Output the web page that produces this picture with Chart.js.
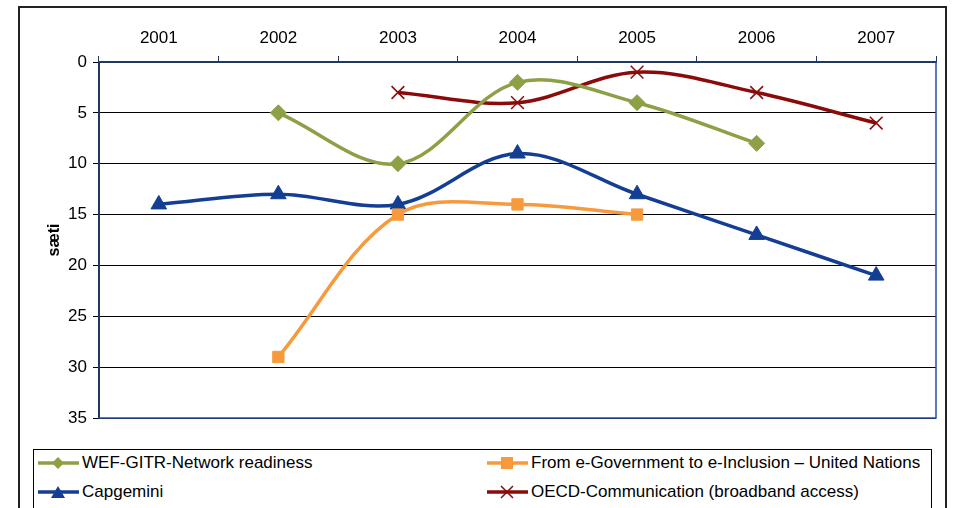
<!DOCTYPE html>
<html>
<head>
<meta charset="utf-8">
<script src="https://cdn.jsdelivr.net/npm/chart.js@4/dist/chart.umd.min.js"></script>
<style>
    body { margin: 0; background: #fff; font-family: "Liberation Sans", Arial, sans-serif; }
    #wrap { position: relative; width: 953px; height: 508px; overflow: hidden; }
    #frame { position: absolute; left: 18px; top: 6px; width: 929px; height: 520px; border: 2px solid #222; box-sizing: border-box; }
    canvas { position: absolute; left: 0; top: 0; }
    #legend { position: absolute; left: 33px; top: 449px; width: 899px; height: 70px; border: 1px solid #000; box-sizing: border-box; background: #fff; }
    .item { position: absolute; display: flex; align-items: center; font-size: 17px; color: #000; white-space: nowrap; }
    .item svg { margin-right: 3px; }
</style>
</head>
<body>
<div id="wrap">
    <div id="frame"></div>
    <canvas id="chart" width="953" height="508"></canvas>
    <div id="legend"></div>
</div>
<script>
const years = ['2001', '2002', '2003', '2004', '2005', '2006', '2007'];
const wefValues = [null, 5, 10, 2, 4, 8, null];
const unValues = [null, 29, 15, 14, 15, null, null];
const capgeminiValues = [14, 13, 14, 9, 13, 17, 21];
const oecdValues = [null, null, 3, 4, 1, 3, 6];
const yTicks = [0, 5, 10, 15, 20, 25, 30, 35];

const seriesDefs = [
    { label: 'WEF-GITR-Network readiness', data: wefValues, color: '#8DA046', point: 'rectRot', radius: 8, marker: 'diamond' },
    { label: 'From e-Government to e-Inclusion – United Nations', data: unValues, color: '#F79A3E', point: 'rect', radius: 8, marker: 'square' },
    { label: 'Capgemini', data: capgeminiValues, color: '#133E94', point: 'triangle', radius: 9, marker: 'triangle' },
    { label: 'OECD-Communication (broadband access)', data: oecdValues, color: '#8B0A0A', point: 'crossRot', radius: 9, marker: 'cross' },
];

const frameBorder = {
    id: 'frameBorder',
    afterDatasetsDraw(chart) {
        const { ctx, chartArea } = chart;
        ctx.save();
        ctx.strokeStyle = '#2450A6';
        ctx.lineWidth = 1.5;
        ctx.beginPath();
        ctx.moveTo(chartArea.right, chartArea.top);
        ctx.lineTo(chartArea.right, chartArea.bottom);
        ctx.lineTo(chartArea.left, chartArea.bottom);
        ctx.stroke();
        ctx.restore();
    },
};

new Chart(document.getElementById('chart'), {
    type: 'line',
    data: {
        labels: years,
        datasets: seriesDefs.map((s) => ({
            label: s.label,
            data: s.data,
            borderColor: s.color,
            backgroundColor: s.color,
            pointBackgroundColor: s.color,
            pointBorderColor: s.color,
            pointStyle: s.point,
            pointRadius: s.radius,
            pointBorderWidth: s.point === 'crossRot' ? 1.5 : 1,
            borderWidth: 3.5,
            tension: 0.35,
            fill: false,
        })),
    },
    options: {
        responsive: false,
        animation: false,
        layout: { padding: { left: 45, right: 17, top: 20, bottom: 90 } },
        plugins: {
            legend: { display: false },
            tooltip: { enabled: false },
        },
        scales: {
            x: {
                position: 'top',
                offset: true,
                afterFit(scale) { scale.height = 42; },
                ticks: { color: '#000', padding: 7, font: { family: 'Liberation Sans', size: 17 } },
                grid: { offset: true, drawOnChartArea: false, drawTicks: true, tickLength: 6, color: '#1F3864', lineWidth: 1 },
                border: { color: '#1F3864', width: 2 },
            },
            y: {
                reverse: true,
                min: 0,
                max: 35,
                afterFit(scale) { scale.width = 54; },
                afterBuildTicks(scale) { scale.ticks = yTicks.map((v) => ({ value: v })); },
                ticks: { color: '#000', padding: 6, font: { family: 'Liberation Sans', size: 17 } },
                grid: { color: '#000', lineWidth: 1, tickLength: 6 },
                border: { color: '#1F3864', width: 2 },
                title: { display: true, text: 'sæti', color: '#000', padding: 0, font: { family: 'Liberation Sans', size: 16, weight: 'bold' } },
            },
        },
    },
    plugins: [frameBorder],
});

function markerSvg(s) {
    const c = s.color;
    let m = '';
    if (s.marker === 'diamond') m = `<polygon points="20,1 26,7 20,13 14,7" fill="${c}"/>`;
    if (s.marker === 'square') m = `<rect x="14" y="1" width="12" height="12" fill="${c}"/>`;
    if (s.marker === 'triangle') m = `<polygon points="20,1 27,13 13,13" fill="${c}"/>`;
    if (s.marker === 'cross') m = `<path d="M14,1 L26,13 M26,1 L14,13" stroke="${c}" stroke-width="1.5"/>`;
    return `<svg width="41" height="14"><line x1="0" y1="7" x2="41" y2="7" stroke="${c}" stroke-width="3.5"/>${m}</svg>`;
}

const legend = document.getElementById('legend');
const legendPos = [[4, 3], [453, 3], [4, 32], [453, 32]];
seriesDefs.forEach((s, i) => {
    const el = document.createElement('div');
    el.className = 'item';
    el.style.left = legendPos[i][0] + 'px';
    el.style.top = legendPos[i][1] + 'px';
    el.innerHTML = markerSvg(s) + '<span>' + s.label + '</span>';
    legend.appendChild(el);
});
</script>
</body>
</html>
